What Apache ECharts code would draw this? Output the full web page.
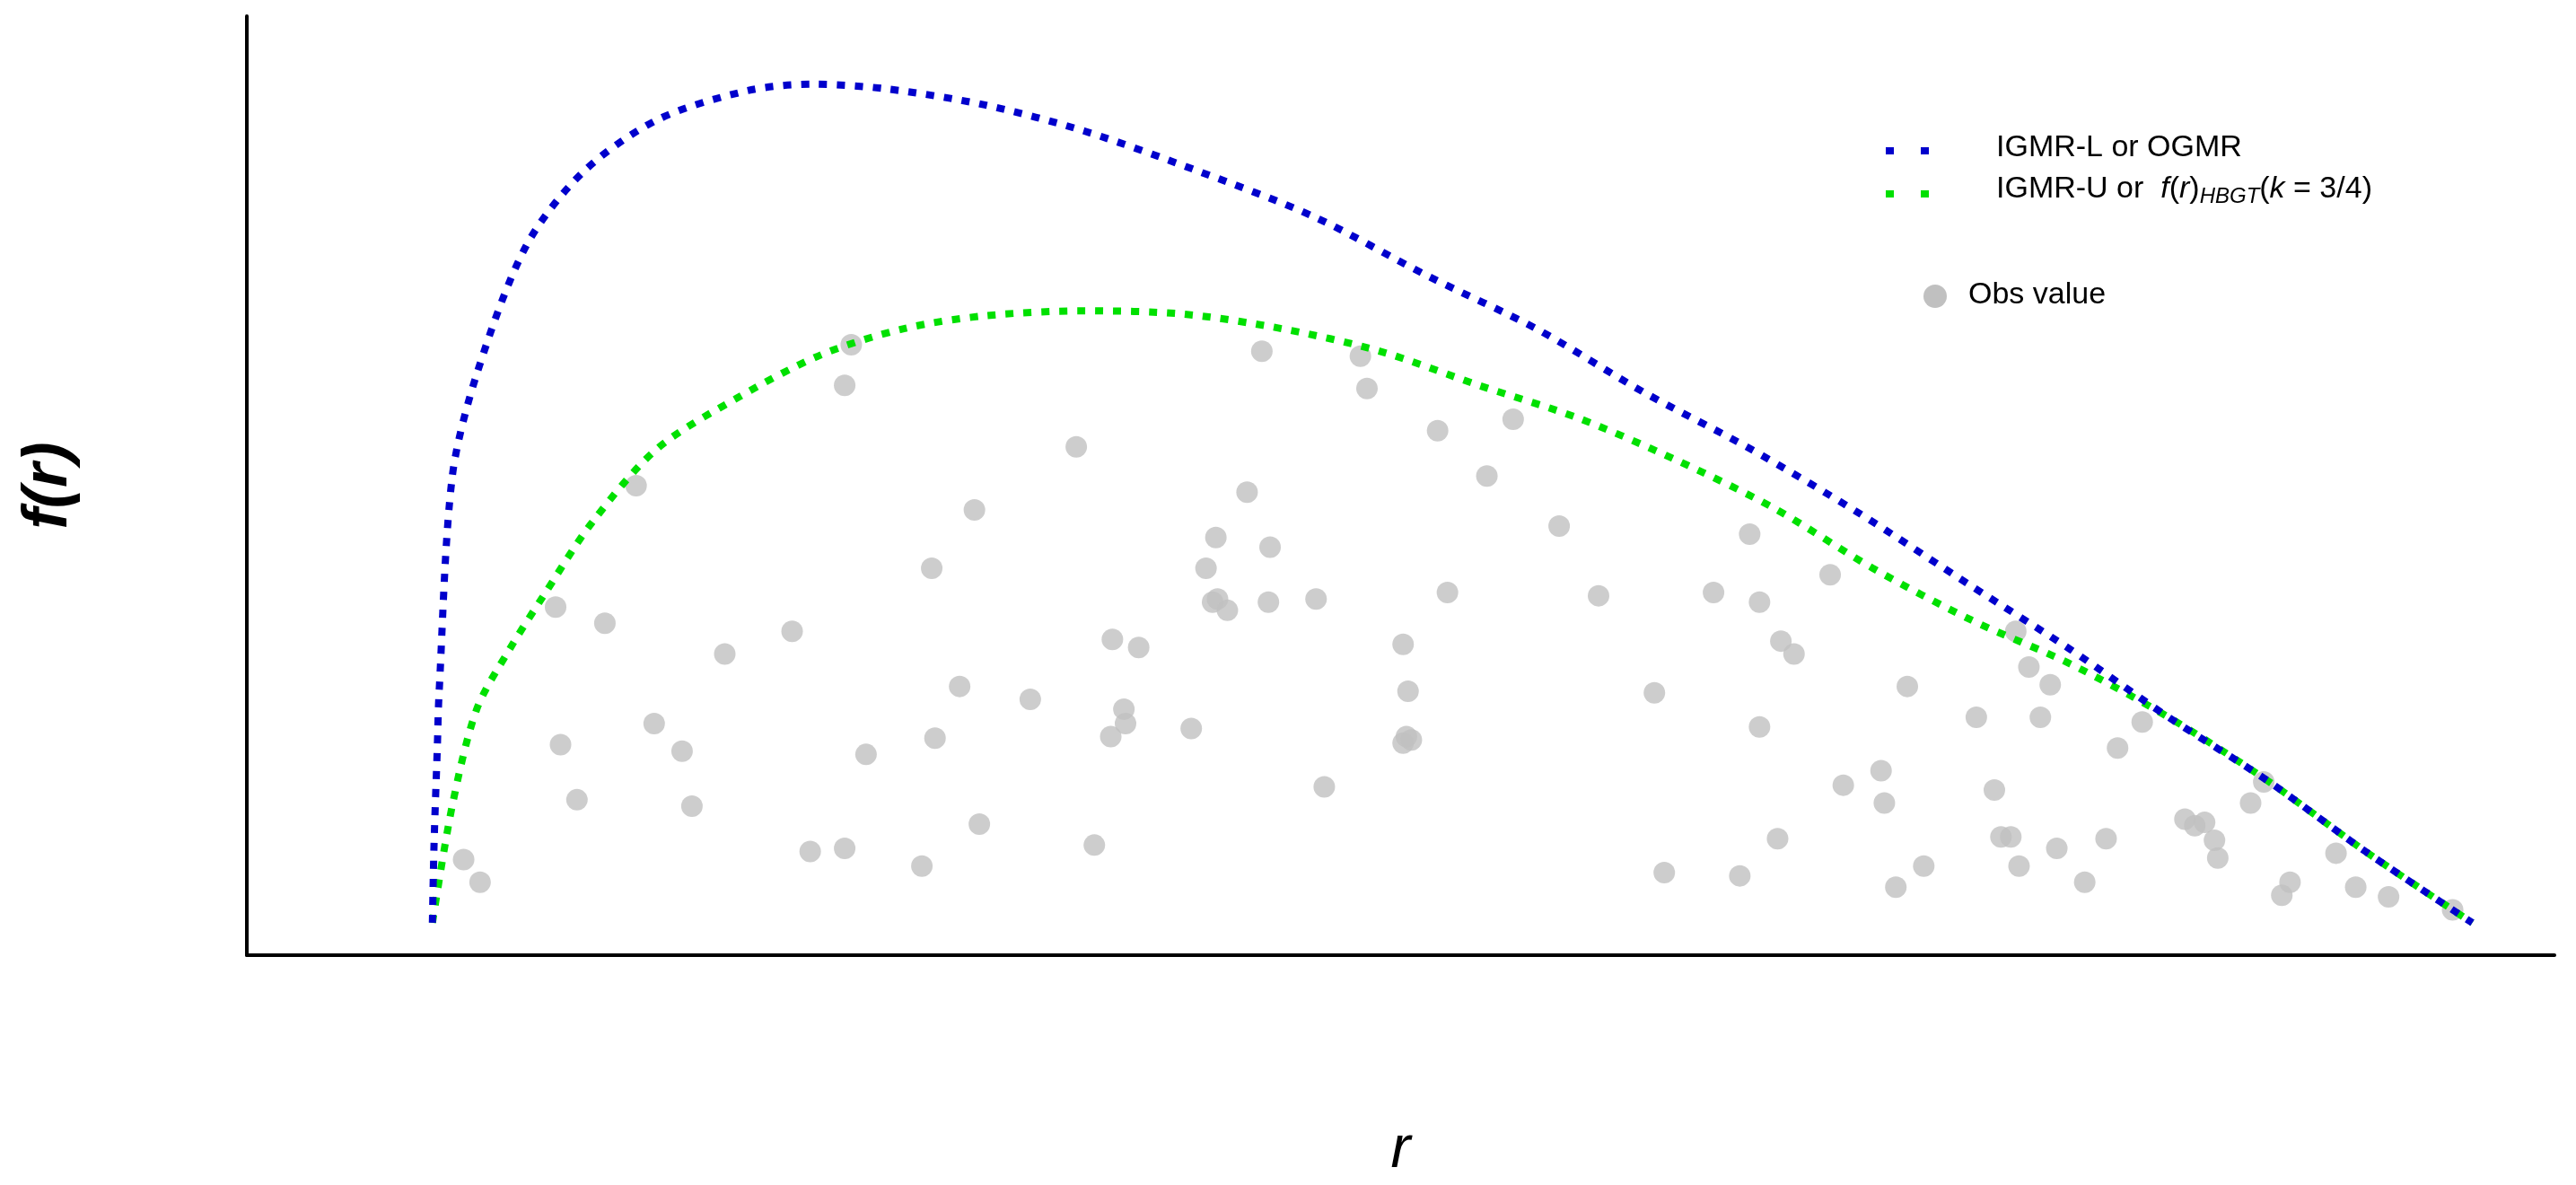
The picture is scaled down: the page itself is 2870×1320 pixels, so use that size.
<!DOCTYPE html>
<html>
<head>
	<meta charset="utf-8" />
	<title>f(r)</title>
	<script src="https://cdn.jsdelivr.net/npm/echarts@6/dist/echarts.min.js"></script>
	<style>
		html, body {margin:0;height:100%;background:#fff;}
		#chart {width:2870px;height:1320px;}
	</style>
</head>
<body>
	<div id="chart"></div>
	<script>
		// IGMR-L or OGMR curve (x, f)
		var blueX = [263, 264, 266, 267, 275, 290, 320, 355, 400, 455, 495, 540, 600, 660, 730, 800, 870, 935, 1000, 1065, 1130, 1200, 1260, 1320, 1380, 1440, 1505];
		var blueY = [20, 69, 129, 161, 295, 359, 438, 484, 516, 534, 538, 535, 525, 509, 484, 456, 419, 387, 348, 313, 274, 228, 189, 147, 108, 64, 20];
		// IGMR-U or f(r)HBGT curve
		var greenX = [263, 275, 290, 310, 330, 360, 400, 450, 500, 550, 600, 660, 720, 780, 840, 900, 960, 1020, 1080, 1140, 1200, 1260, 1320, 1380, 1440, 1505];
		var greenY = [20, 92, 152, 189, 221, 267, 313, 345, 371, 387, 395, 398, 396, 387, 373, 352, 332, 306, 276, 239, 207, 180, 147, 108, 64, 20];
		// observed values
		var obsX = [282,292,338,341,351,368,387,398,415,421,441,482,493,514,514,518,527,561,567,569,584,593,596,627,655,666,677,676,684,685,693,725,734,740,738,741,747,759,768,773,772,801,806,828,832,854,857,854,856,859,875,881,905,921,949,973,1007,1013,1043,1059,1065,1071,1071,1082,1084,1092,1114,1122,1145,1147,1154,1161,1171,1203,1214,1218,1224,1229,1227,1235,1242,1248,1252,1269,1282,1289,1304,1330,1336,1342,1348,1350,1370,1378,1389,1394,1422,1434,1454,1493];
		var obsYpx = [531,545,375,460,494,385,300,447,464,498,404,390,526,524,238,213,466,535,351,456,424,315,509,432,276,522,395,455,438,447,400,450,351,332,372,370,377,304,217,338,372,370,486,220,240,398,427,459,455,457,266,366,294,259,325,368,428,539,366,541,330,372,449,518,396,404,355,485,476,496,548,424,535,443,488,517,517,535,390,412,443,423,524,545,518,462,446,506,510,508,519,530,496,483,553,545,527,548,554,562];
		var obsY = obsYpx.map(function (v) { return 590 - v; });

		function pairs(xs, ys) { return xs.map(function (x, i) { return [x, ys[i]]; }); }

		var chart = echarts.init(document.getElementById('chart'));
		var font = 'Liberation Sans';
		var option = {
			animation: false,
			grid: {left: 275, right: 24, top: 18, bottom: 240},
			xAxis: {
				type: 'value', min: 150, max: 1555,
				name: 'r', nameLocation: 'middle', nameGap: 185,
				nameTextStyle: {fontFamily: font, fontStyle: 'italic', fontSize: 66, color: '#000'},
				axisLine: {show: true, onZero: false, lineStyle: {color: '#000', width: 4}},
				axisTick: {show: false}, axisLabel: {show: false}, splitLine: {show: false}
			},
			yAxis: {
				type: 'value', min: 0, max: 580,
				name: 'f(r)', nameLocation: 'middle', nameGap: 185,
				nameTextStyle: {fontFamily: font, fontStyle: 'italic', fontWeight: 'bold', fontSize: 70, color: '#000'},
				axisLine: {show: true, lineStyle: {color: '#000', width: 4}},
				axisTick: {show: false}, axisLabel: {show: false}, splitLine: {show: false}
			},
			series: [
				{
					type: 'scatter', data: pairs(obsX, obsY), symbolSize: 24,
					itemStyle: {color: '#c0c0c0'}, z: 1
				},
				{
					type: 'line', data: pairs(blueX, blueY), smooth: 0.3, showSymbol: false,
					lineStyle: {color: '#0000cc', width: 8, type: [9, 11]}, z: 3
				},
				{
					type: 'line', data: pairs(greenX, greenY), smooth: 0.3, showSymbol: false,
					lineStyle: {color: '#00e000', width: 8, type: [9, 11]}, z: 2
				}
			],
			graphic: [
				{type: 'line', shape: {x1: 2101, y1: 168, x2: 2170, y2: 168}, style: {stroke: '#0000cc', lineWidth: 8, lineDash: [9, 30]}},
				{type: 'text', left: 2224, top: 148, style: {text: 'IGMR-L or OGMR', font: '34px Liberation Sans', fill: '#000'}},
				{type: 'line', shape: {x1: 2101, y1: 216, x2: 2170, y2: 216}, style: {stroke: '#00e000', lineWidth: 8, lineDash: [9, 30]}},
				{type: 'text', left: 2224, top: 194, style: {
					text: 'IGMR-U or  {i|f}({i|r}){s|HBGT}({i|k} = 3/4)',
					font: '34px Liberation Sans', fill: '#000',
					rich: {
						i: {fontFamily: font, fontStyle: 'italic', fontSize: 34},
						s: {fontFamily: font, fontStyle: 'italic', fontSize: 24, padding: [16, 0, 0, 0]}
					}
				}},
				{type: 'circle', shape: {cx: 2156, cy: 330, r: 13}, style: {fill: '#c0c0c0'}},
				{type: 'text', left: 2193, top: 312, style: {text: 'Obs value', font: '34px Liberation Sans', fill: '#000'}}
			]
		};
		chart.setOption(option);
	</script>
</body>
</html>
